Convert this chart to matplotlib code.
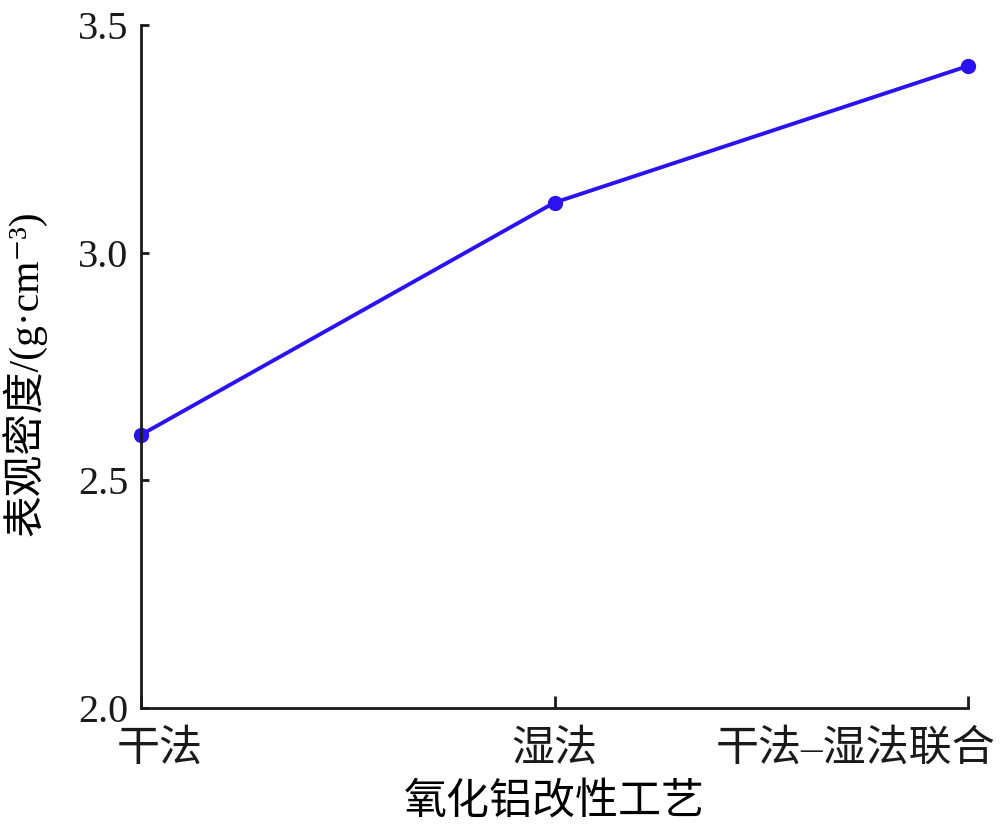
import matplotlib
matplotlib.use("Agg")
import matplotlib.pyplot as plt
from matplotlib.transforms import ScaledTranslation

processes = ["干法", "湿法", "干法–湿法联合"]
density = [2.60, 3.11, 3.41]
y_ticks = [2.0, 2.5, 3.0, 3.5]

plt.rcParams["font.family"] = ["Liberation Serif", "Noto Sans CJK SC", "DejaVu Serif"]

fig = plt.figure(figsize=(10, 8.33), dpi=100)
ax = fig.add_axes([0.141, 0.150, 0.827, 0.820])

x = list(range(len(processes)))
ax.plot(x, density, color="#2b12f0", lw=2.8, marker="o", markersize=10, clip_on=False)

ax.set_xlim(0, len(processes) - 1)
ax.set_ylim(2.0, 3.5)
ax.set_xticks(x)
ax.set_xticklabels(processes, fontsize=31)
ax.set_yticks(y_ticks)
ax.set_yticklabels([f"{v:.1f}" for v in y_ticks], fontsize=29)

for side in ["top", "right"]:
    ax.spines[side].set_visible(False)
for side in ["left", "bottom"]:
    ax.spines[side].set_linewidth(2)
    ax.spines[side].set_color("#1a1a1a")

ax.tick_params(axis="y", direction="in", length=6, width=2, pad=9, colors="#1a1a1a")
ax.tick_params(axis="x", direction="in", length=9, width=2, pad=16, colors="#1a1a1a")

# shift end labels so they stay inside the figure, as in the reference
labels = ax.get_xticklabels()
labels[0].set_transform(labels[0].get_transform() + ScaledTranslation(0.19, 0, fig.dpi_scale_trans))
labels[-1].set_transform(labels[-1].get_transform() + ScaledTranslation(-1.12, 0, fig.dpi_scale_trans))

ax.set_xlabel("氧化铝改性工艺", fontsize=31, labelpad=10)
ax.set_ylabel("表观密度/(g·cm⁻³)", fontsize=30)
ax.yaxis.set_label_coords(-0.114, 0.49)

fig.savefig("out.png", dpi=100)
